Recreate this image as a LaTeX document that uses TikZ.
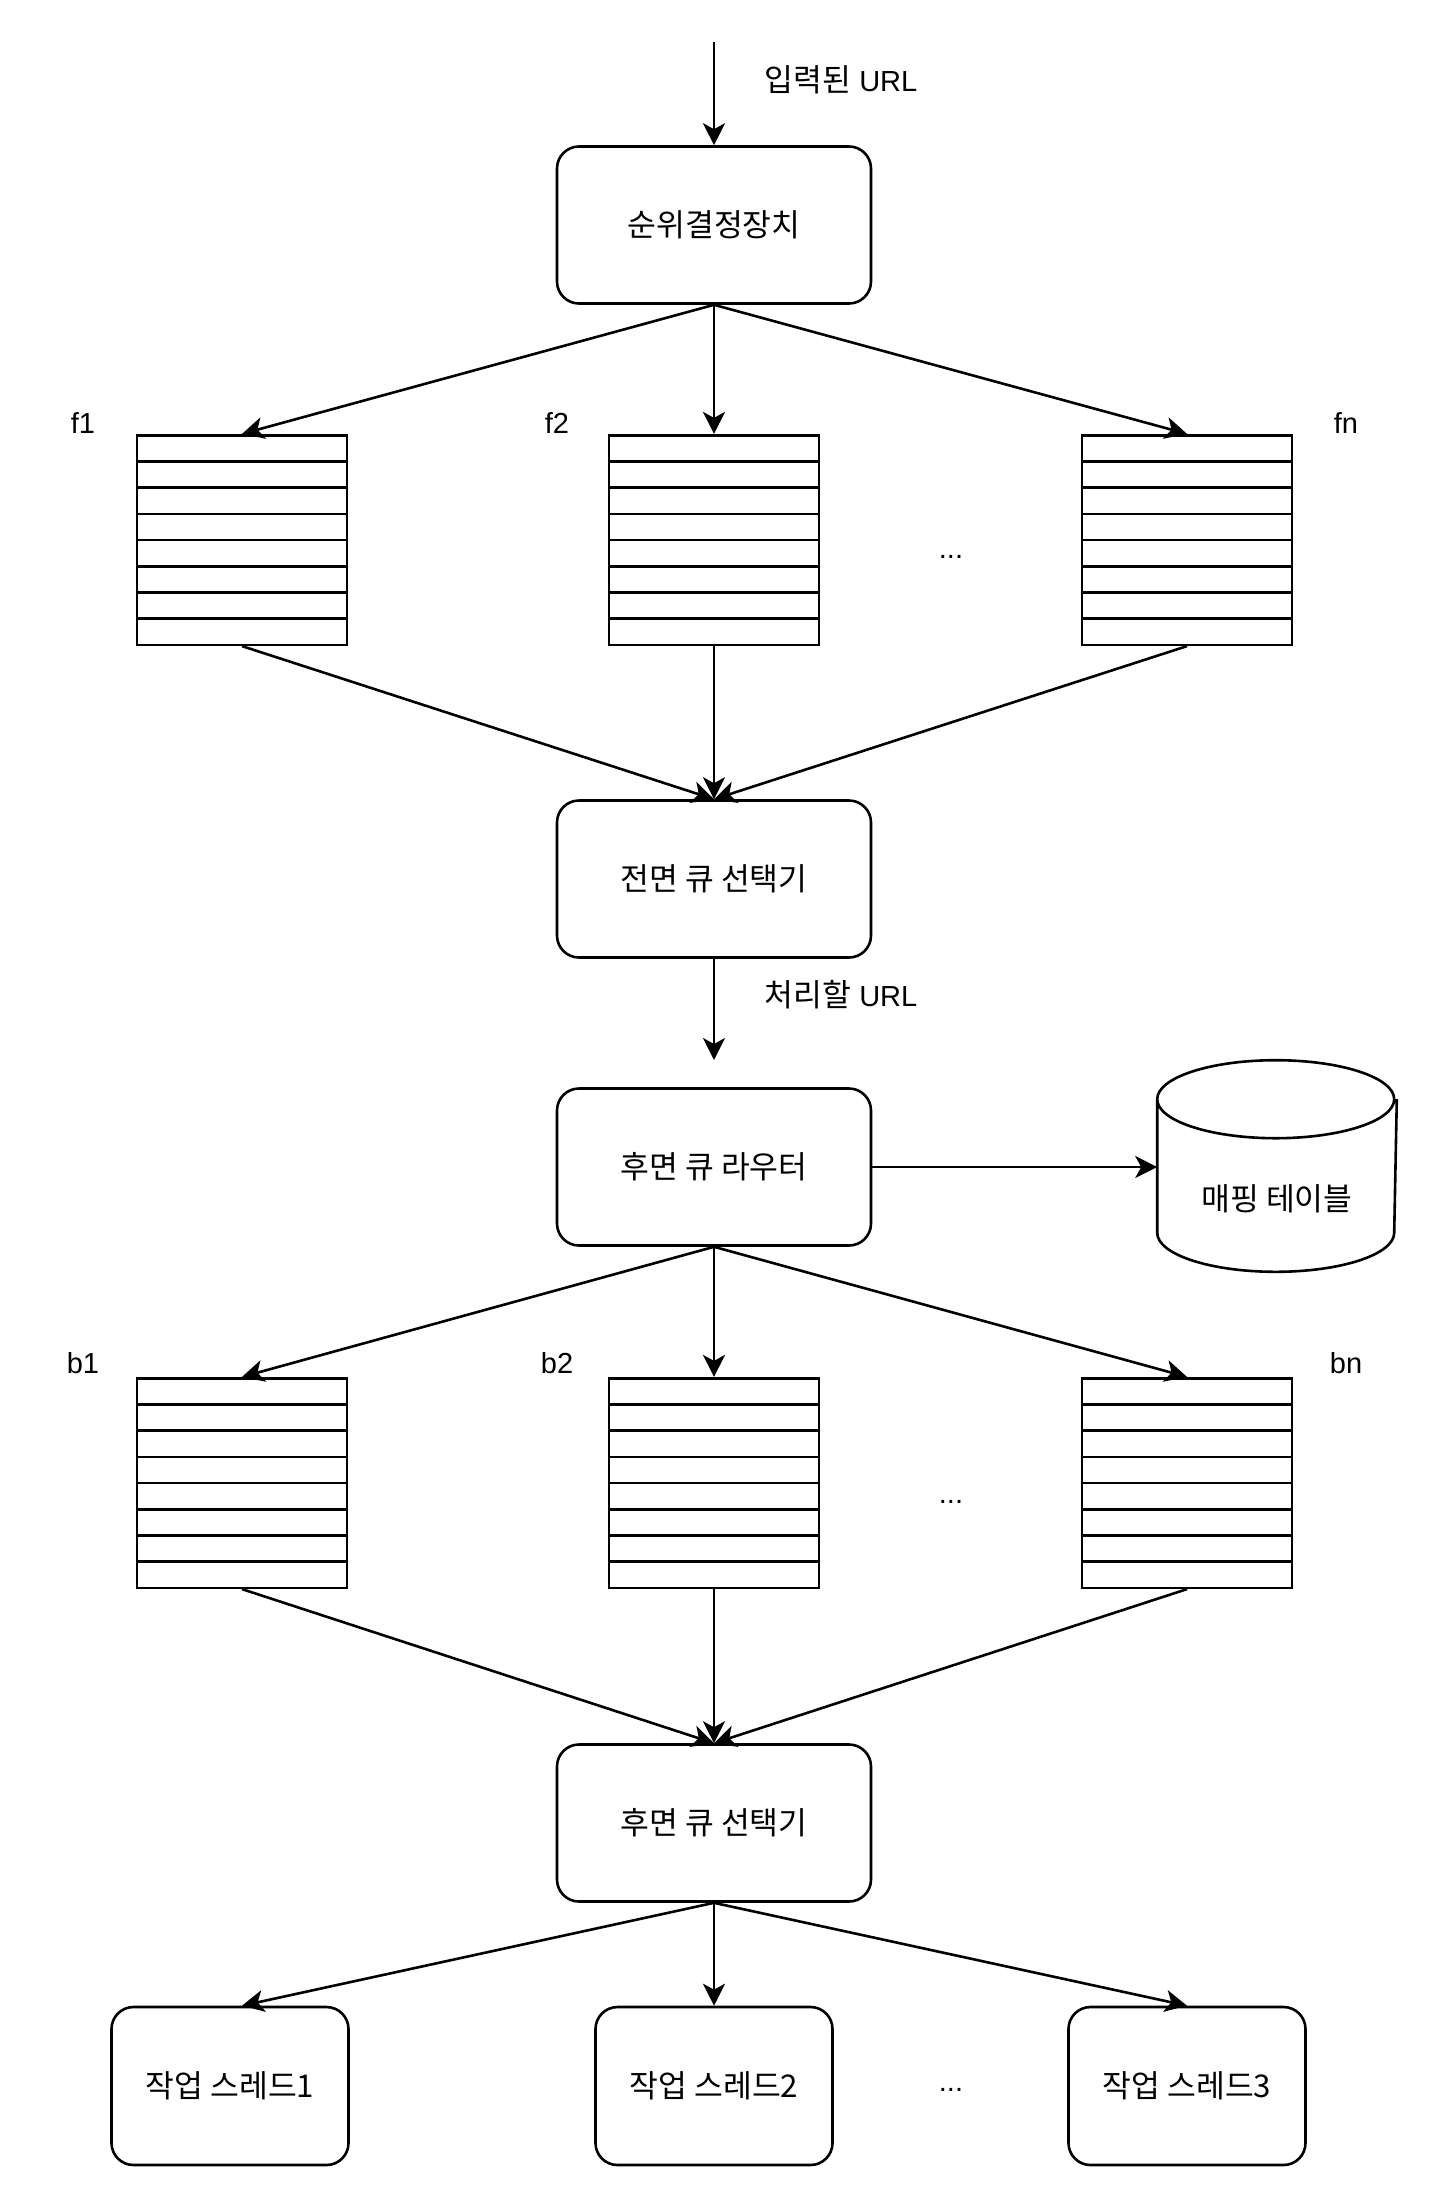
\documentclass[tikz,border=0pt]{standalone}
\usepackage{fontspec}
\setmainfont{Liberation Sans}
\newfontfamily\kr[Scale=1.08]{Noto Sans CJK KR}
\usetikzlibrary{shapes.multipart}
\usetikzlibrary{arrows.meta}
\usetikzlibrary{positioning}

\begin{document}
\begin{tikzpicture}[x=0.5pt,y=-0.5pt,->,>={Stealth[length=11pt,width=11pt,inset=3pt]},
	line width=1.3pt,font=\fontsize{14.5pt}{17pt}\selectfont,
	main node/.style={rectangle,draw,rounded corners=11pt,minimum width=157pt,minimum height=78.5pt},
	work node/.style={main node,minimum width=118.5pt,minimum height=79pt},
	queue node/.style={rectangle split,rectangle split parts=8,draw,minimum width=105pt,
		inner xsep=0pt,inner ysep=0pt,rectangle split empty part height=11.8pt,
		rectangle split empty part depth=0pt},
	label node/.style={inner sep=1pt}]
	
	\useasboundingbox (0,0) rectangle (1434,2190);
	
	% top part
	\coordinate (in) at (714,42);
	\node[main node] (prio) at (714,225) {\kr 순위결정장치};
	\node[label node] (inlbl) at (841,80) {{\kr 입력된} URL};
	
	\node[queue node] (fq1) at (242,540) {};
	\node[queue node] (fq2) at (714,540) {};
	\node[queue node] (fqn) at (1187,540) {};
	\node[label node] (f1) at (83,423) {f1};
	\node[label node] (f2) at (557,423) {f2};
	\node[label node] (fn) at (1346,423) {fn};
	\node[label node] (fdots) at (951,557) {...};
	
	\node[main node] (fsel) at (714,879) {\kr 전면 큐 선택기};
	\coordinate (rin) at (714,1060);
	\node[label node] (todo) at (841,995) {{\kr 처리할} URL};
	
	% back part
	\node[main node] (router) at (714,1167) {\kr 후면 큐 라우터};
	\node[minimum width=118.5pt,minimum height=104.5pt,inner sep=0pt] (map) at (1277,1166) {};
	\draw[-] ([yshift=-19.5pt]map.north west)
		arc[start angle=180,end angle=360,x radius=59.25pt,y radius=19.5pt]
		arc[start angle=0,end angle=180,x radius=59.25pt,y radius=19.5pt]
		-- ([yshift=19.5pt]map.south west)
		arc[start angle=180,end angle=360,x radius=59.25pt,y radius=19.5pt]
		-- ([yshift=-19.5pt]map.north east);
	\node[label node] (maplbl) at (1277,1199) {\kr 매핑 테이블};
	
	\node[queue node] (bq1) at (242,1483) {};
	\node[queue node] (bq2) at (714,1483) {};
	\node[queue node] (bqn) at (1187,1483) {};
	\node[label node] (b1) at (83,1363) {b1};
	\node[label node] (b2) at (557,1363) {b2};
	\node[label node] (bn) at (1346,1363) {bn};
	\node[label node] (bdots) at (951,1502) {...};
	
	\node[main node] (bsel) at (714,1823) {\kr 후면 큐 선택기};
	
	\node[work node] (w1) at (230,2086) {\kr 작업 스레드1};
	\node[work node] (w2) at (714,2086) {\kr 작업 스레드2};
	\node[work node] (w3) at (1187,2086) {\kr 작업 스레드3};
	\node[label node] (wdots) at (951,2090) {...};
	
	\path
	(in) edge (prio.north)
	(prio.south) edge (fq1.north)
	(prio.south) edge (fq2.north)
	(prio.south) edge (fqn.north)
	(fq1.south) edge (fsel.north)
	(fq2.south) edge (fsel.north)
	(fqn.south) edge (fsel.north)
	(fsel.south) edge (rin)
	(router.east) edge (router.east -| map.west)
	(router.south) edge (bq1.north)
	(router.south) edge (bq2.north)
	(router.south) edge (bqn.north)
	(bq1.south) edge (bsel.north)
	(bq2.south) edge (bsel.north)
	(bqn.south) edge (bsel.north)
	(bsel.south) edge (w1.north -| bq1.south)
	(bsel.south) edge (w2.north)
	(bsel.south) edge (w3.north);
\end{tikzpicture}
\end{document}
